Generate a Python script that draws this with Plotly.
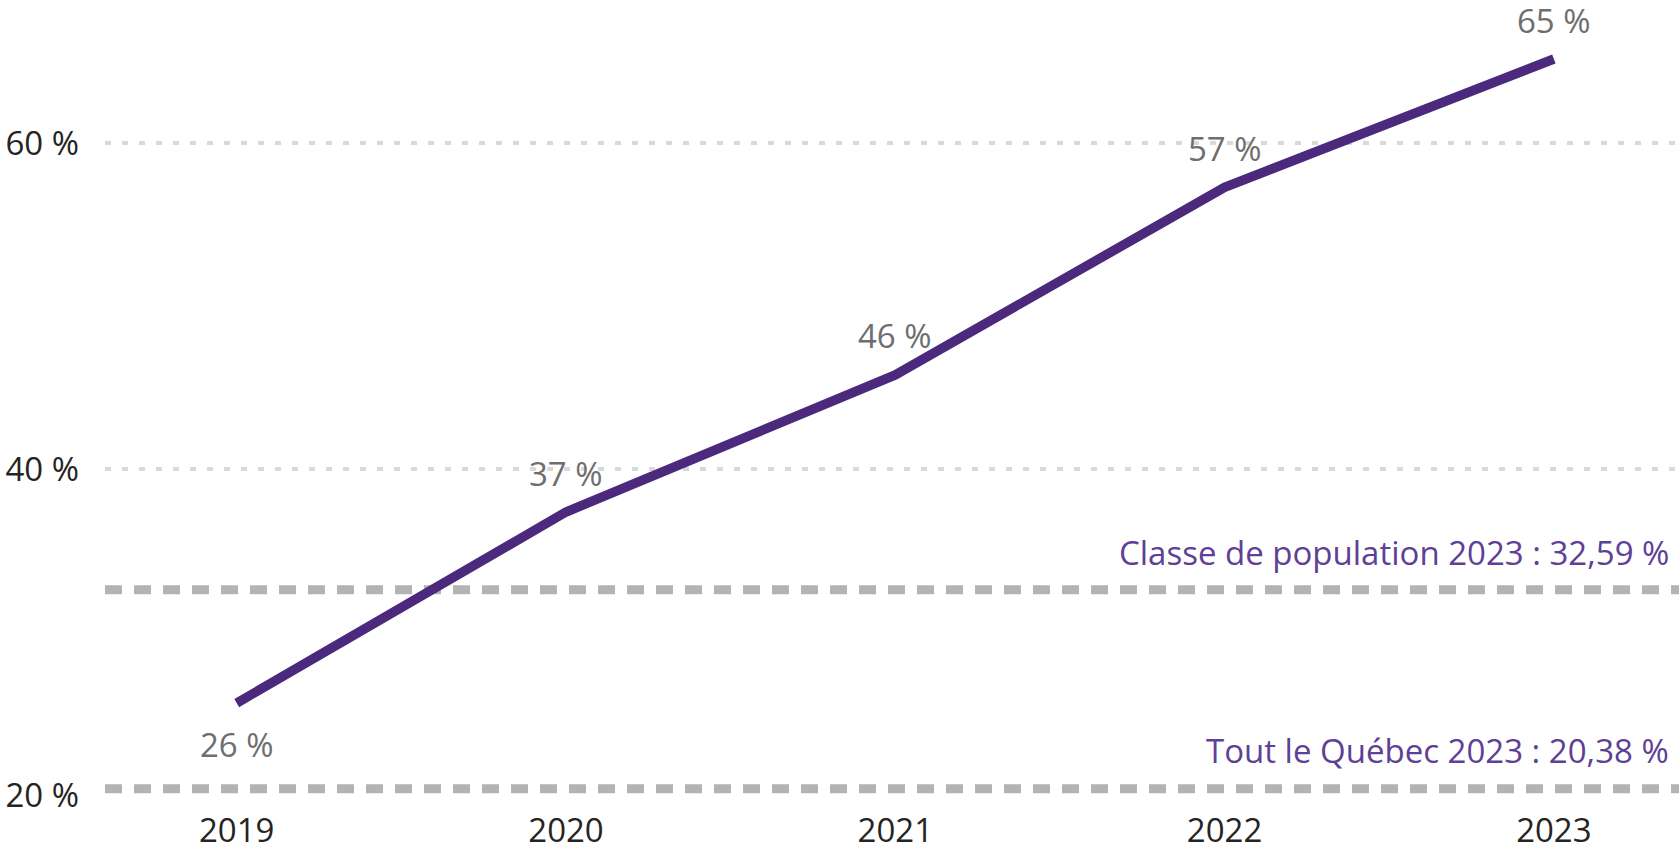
import plotly.graph_objects as go

years = ["2019", "2020", "2021", "2022", "2023"]
values = [25.64, 37.36, 45.77, 57.28, 65.15]
label_pos = ["below", "above", "above", "above", "above"]

ref_values = [32.59, 20.38]
ref_labels = ["Classe de population 2023 : 32,59 %", "Tout le Québec 2023 : 20,38 %"]

y_ticks = [20, 40, 60]
y_tick_text = ["20 %", "40 %", "60 %"]

FONT = "Open Sans"
FS = 33
LINE_COLOR = "#4B2A7D"
REF_TEXT = "#5E4096"

fig = go.Figure()
fig.add_trace(go.Scatter(
    x=years, y=values, mode="lines",
    line=dict(color=LINE_COLOR, width=9.5),
    hoverinfo="skip", showlegend=False,
))

for v in ref_values:
    fig.add_shape(type="line", xref="paper", x0=0, x1=1, yref="y", y0=v, y1=v,
                  line=dict(color="#B3B3B3", width=9, dash="17px,12px"), layer="below")

for v, t, s in zip(ref_values, ref_labels, [37, 38]):
    fig.add_annotation(xref="paper", x=1, yref="y", y=v, text=t, showarrow=False,
                       xanchor="right", yanchor="middle", xshift=-8, yshift=s,
                       font=dict(family=FONT, size=FS, color=REF_TEXT))

for i, (v, p) in enumerate(zip(values, label_pos)):
    fig.add_annotation(xref="x", x=i, yref="y", y=v, text=f"{round(v)} %", showarrow=False,
                       xanchor="center", yanchor="middle",
                       yshift=(39 if p == "above" else -41),
                       font=dict(family=FONT, size=FS, color="#6E6E6E"))

fig.update_layout(
    template="none",
    width=1679, height=846,
    margin=dict(l=105, r=0, t=0, b=51, autoexpand=False),
    paper_bgcolor="white", plot_bgcolor="white",
    font=dict(family=FONT, size=FS, color="#333333"),
    xaxis=dict(type="category", range=[-0.4, 4.38], showgrid=False, zeroline=False,
               showline=False, ticks="", ticklabelstandoff=13, automargin=False,
               tickfont=dict(family=FONT, size=FS, color="#252423")),
    yaxis=dict(range=[20, 68.77], tickvals=y_ticks, ticktext=y_tick_text,
               showgrid=True, gridcolor="#D9D9D9", gridwidth=4, griddash="6px,11px",
               zeroline=False, showline=False, ticks="", ticklabelstandoff=25, automargin=False,
               tickfont=dict(family=FONT, size=FS, color="#252423")),
)

fig.write_html("out.html", config={"displayModeBar": False},
               post_script="document.body.style.margin='0';")
